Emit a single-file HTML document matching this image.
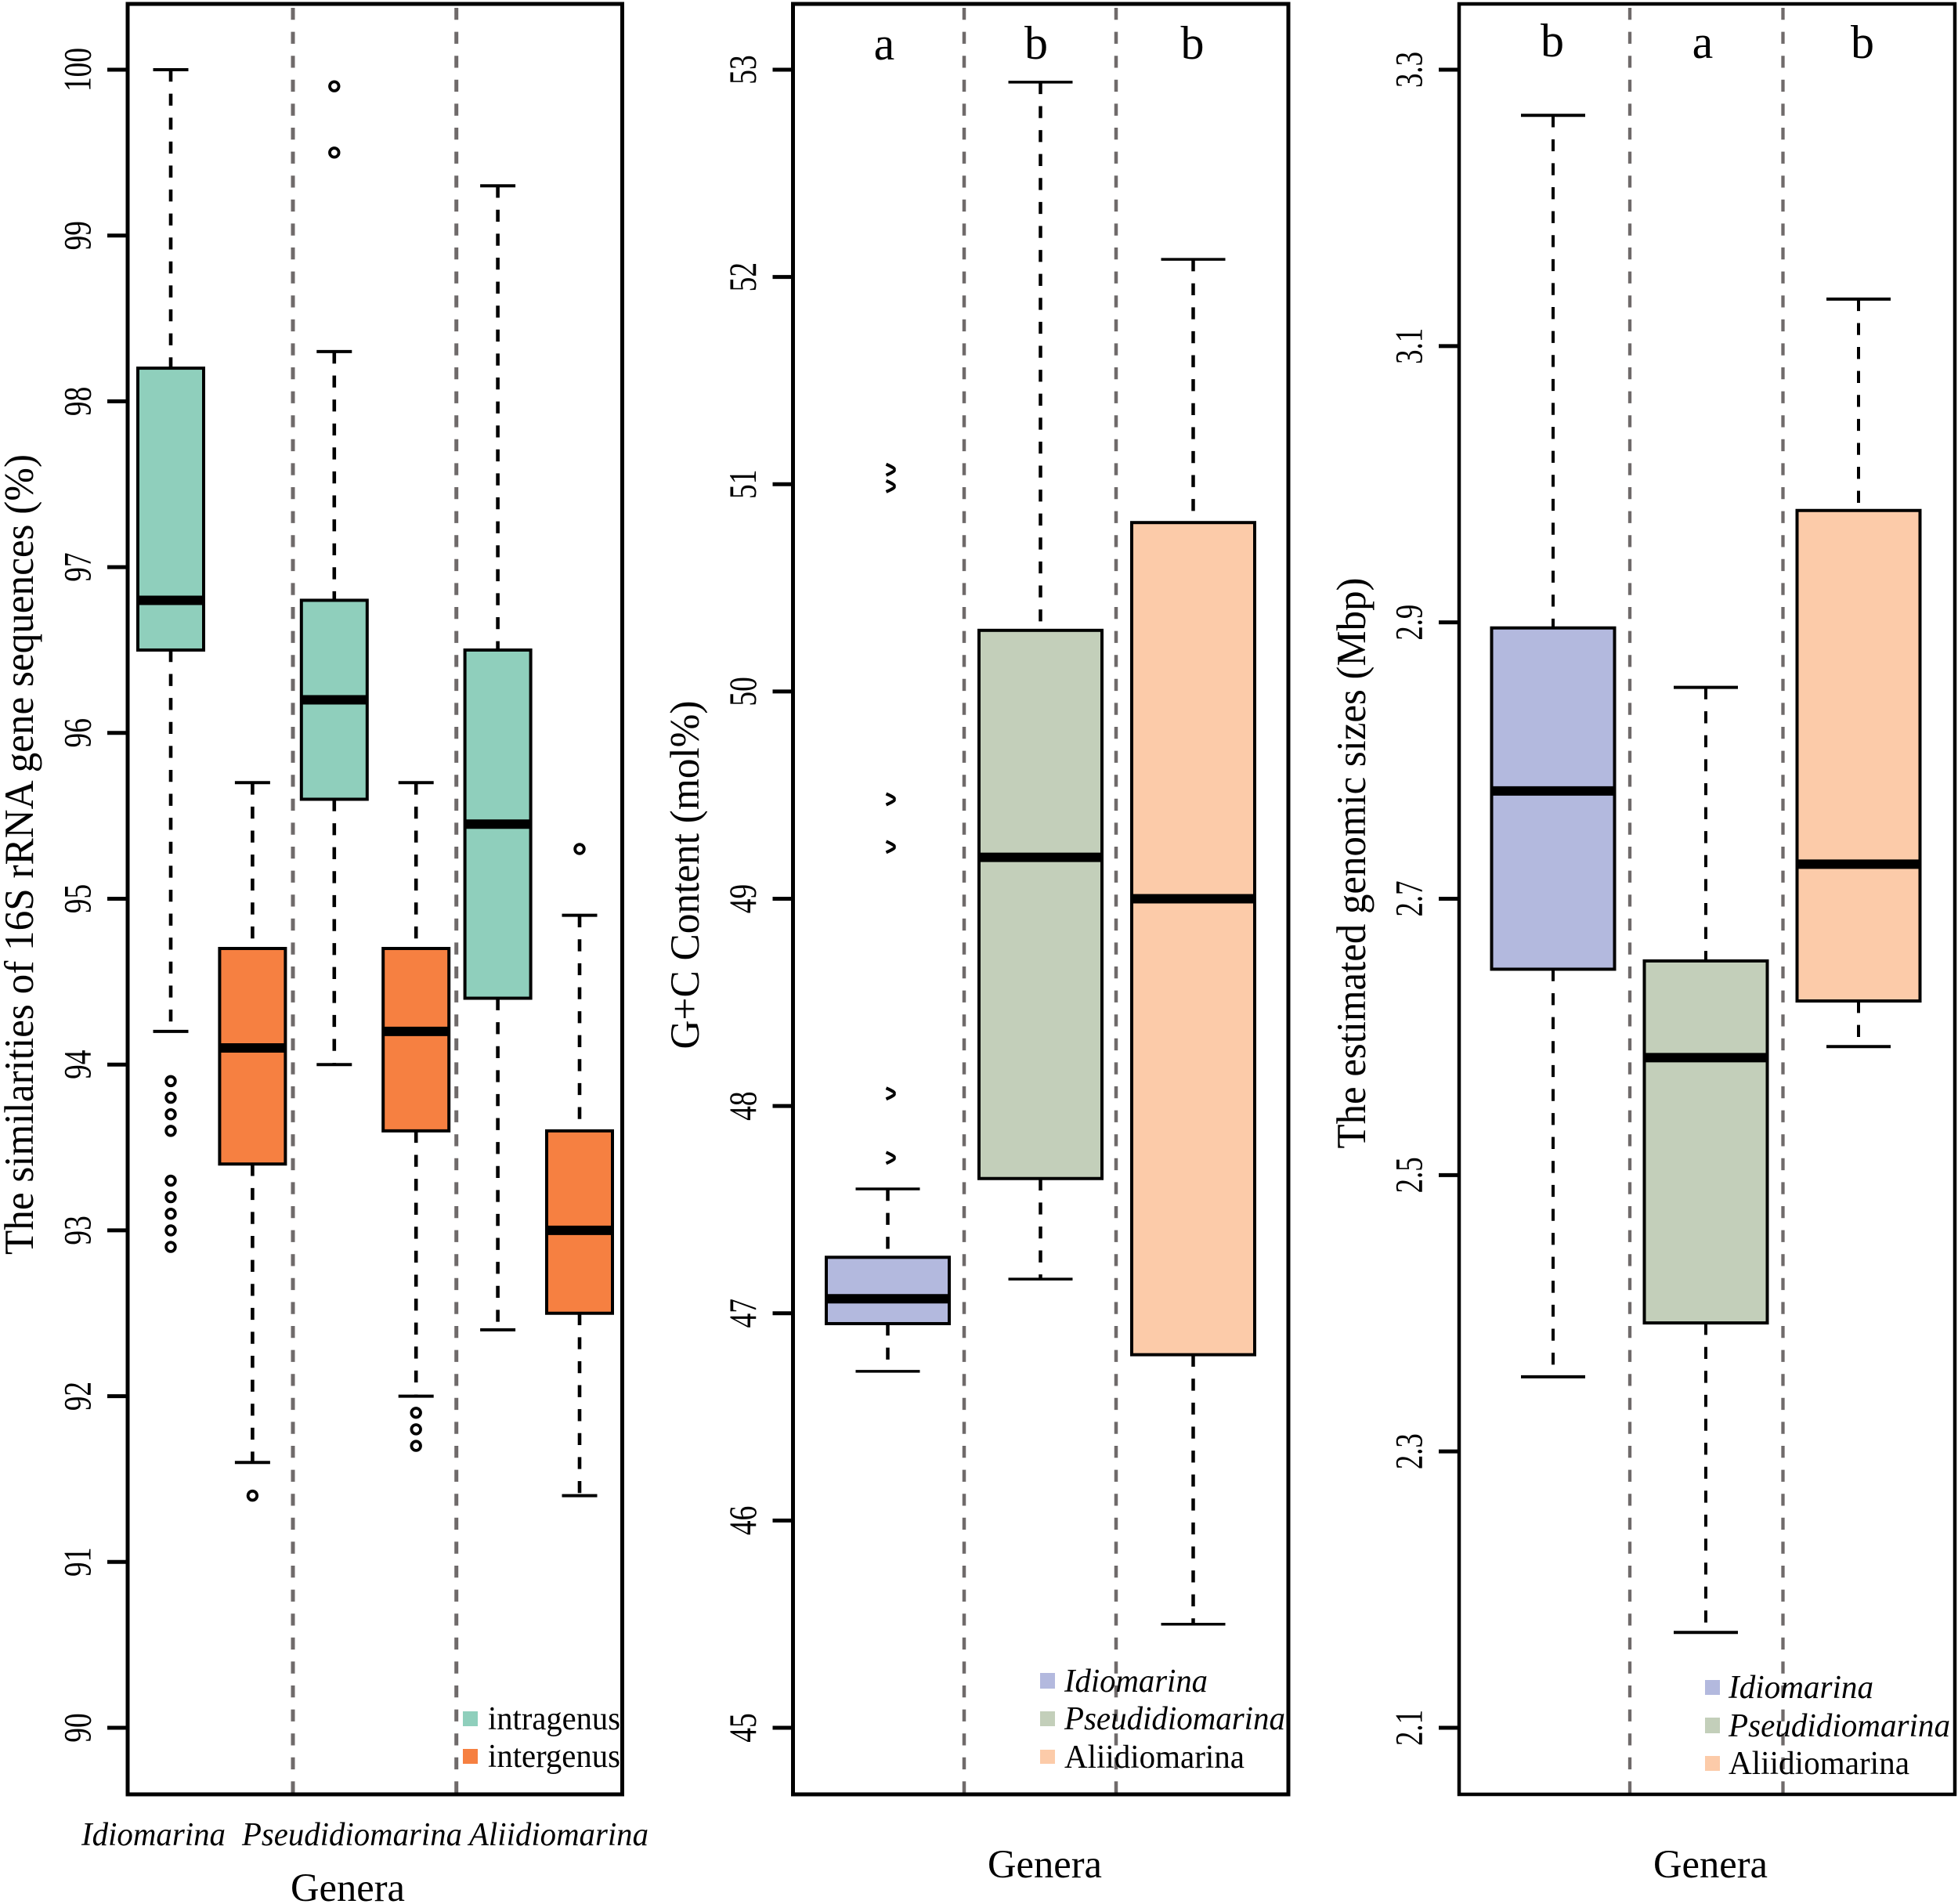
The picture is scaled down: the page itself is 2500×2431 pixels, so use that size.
<!DOCTYPE html>
<html lang="en">
<head>
<meta charset="utf-8">
<title>Genera box plots</title>
<style>
html,body{margin:0;padding:0;background:#fff;}
svg{display:block;}
text{font-family:"Liberation Serif",serif;fill:#000;}
</style>
</head>
<body>
<svg id="chart" xmlns="http://www.w3.org/2000/svg" width="2500" height="2431" viewBox="0 0 2500 2431">
  <rect x="0" y="0" width="2500" height="2431" fill="#fff"/>
  <g id="marks"></g>

  <g>
    <text transform="translate(42,1091) rotate(-90)" text-anchor="middle" font-size="53" textLength="1022" lengthAdjust="spacingAndGlyphs">The similarities of 16S rRNA gene sequences (%)</text>
    <text transform="translate(892,1117) rotate(-90)" text-anchor="middle" font-size="53" textLength="445" lengthAdjust="spacingAndGlyphs">G+C Content (mol%)</text>
    <text transform="translate(1743,1102) rotate(-90)" text-anchor="middle" font-size="53" textLength="729" lengthAdjust="spacingAndGlyphs">The estimated genomic sizes (Mbp)</text>
    <text x="371" y="2427" font-size="51" textLength="146" lengthAdjust="spacingAndGlyphs">Genera</text>
    <text x="1261" y="2397" font-size="51" textLength="146" lengthAdjust="spacingAndGlyphs">Genera</text>
    <text x="2111" y="2397" font-size="51" textLength="146" lengthAdjust="spacingAndGlyphs">Genera</text>
  </g>

  <g font-style="italic" font-size="42">
    <text x="104" y="2356" textLength="184" lengthAdjust="spacingAndGlyphs">Idiomarina</text>
    <text x="309" y="2356" textLength="281" lengthAdjust="spacingAndGlyphs">Pseudidiomarina</text>
    <text x="599" y="2356" textLength="229" lengthAdjust="spacingAndGlyphs">Aliidiomarina</text>
  </g>

  <g font-size="42">
    <rect x="591" y="2185" width="19" height="19" fill="#8fcfbc"/>
    <text x="623" y="2208" textLength="169" lengthAdjust="spacingAndGlyphs">intragenus</text>
    <rect x="591" y="2233" width="19" height="19" fill="#f68041"/>
    <text x="623" y="2256" textLength="169" lengthAdjust="spacingAndGlyphs">intergenus</text>
  </g>

  <g font-size="42">
    <rect x="1328" y="2136" width="19" height="20" fill="#b3b9de"/>
    <text x="1359" y="2160" font-style="italic" textLength="183" lengthAdjust="spacingAndGlyphs">Idiomarina</text>
    <rect x="1328" y="2185" width="19" height="19" fill="#c3cfba"/>
    <text x="1359" y="2208" font-style="italic" textLength="282" lengthAdjust="spacingAndGlyphs">Pseudidiomarina</text>
    <rect x="1328" y="2234" width="19" height="18" fill="#fccba9"/>
    <text x="1359" y="2257" textLength="230" lengthAdjust="spacingAndGlyphs">Aliidiomarina</text>
  </g>

  <g font-size="42">
    <rect x="2177" y="2145" width="19" height="19" fill="#b3b9de"/>
    <text x="2207" y="2168" font-style="italic" textLength="185" lengthAdjust="spacingAndGlyphs">Idiomarina</text>
    <rect x="2177" y="2193" width="19" height="20" fill="#c3cfba"/>
    <text x="2207" y="2217" font-style="italic" textLength="283" lengthAdjust="spacingAndGlyphs">Pseudidiomarina</text>
    <rect x="2177" y="2242" width="19" height="19" fill="#fccba9"/>
    <text x="2207" y="2265" textLength="231" lengthAdjust="spacingAndGlyphs">Aliidiomarina</text>
  </g>

  <g font-size="60" text-anchor="middle">
    <text x="1129" y="76">a</text>
    <text x="1323" y="75">b</text>
    <text x="1522.5" y="75">b</text>
    <text x="1982" y="72">b</text>
    <text x="2174" y="74">a</text>
    <text x="2378" y="74">b</text>
  </g>
</svg>
<script>
// ---- Panel 1: 16S rRNA similarity ----
var simTicks = ['90','91','92','93','94','95','96','97','98','99','100'];
var simGroups = ['idiomarina-intra','idiomarina-inter','pseudidiomarina-intra','pseudidiomarina-inter','aliidiomarina-intra','aliidiomarina-inter'];
var simLow = [94.2, 91.6, 94.0, 92.0, 92.4, 91.4];
var simQ1 = [96.5, 93.4, 95.6, 93.6, 94.4, 92.5];
var simMedian = [96.8, 94.1, 96.2, 94.2, 95.45, 93.0];
var simQ3 = [98.2, 94.7, 96.8, 94.7, 96.5, 93.6];
var simHigh = [100, 95.7, 98.3, 95.7, 99.3, 94.9];
var simOutliers = [
  [93.9, 93.8, 93.7, 93.6, 93.3, 93.2, 93.1, 93.0, 92.9],
  [91.4],
  [99.9, 99.5],
  [91.9, 91.8, 91.7],
  [],
  [95.3]
];
var simColors = ['#8fcfbc','#f68041','#8fcfbc','#f68041','#8fcfbc','#f68041'];

// ---- Panel 2: G+C content ----
var gcTicks = ['45','46','47','48','49','50','51','52','53'];
var gcGroups = ['idiomarina','pseudidiomarina','aliidiomarina'];
var gcLow = [46.72, 47.165, 45.5];
var gcQ1 = [46.95, 47.65, 46.8];
var gcMedian = [47.07, 49.2, 49.0];
var gcQ3 = [47.27, 50.295, 50.815];
var gcHigh = [47.6, 52.94, 52.085];
var gcOutliers = [[51.07, 50.99, 49.48, 49.25, 48.06, 47.75], [], []];

// ---- Panel 3: genome size ----
var sizeTicks = ['2.1','2.3','2.5','2.7','2.9','3.1','3.3'];
var sizeGroups = ['idiomarina','pseudidiomarina','aliidiomarina'];
var sizeLow = [2.354, 2.169, 2.593];
var sizeQ1 = [2.649, 2.393, 2.626];
var sizeMedian = [2.778, 2.585, 2.725];
var sizeQ3 = [2.896, 2.655, 2.981];
var sizeHigh = [3.267, 2.853, 3.134];
var sizeOutliers = [[], [], []];

var threeColors = ['#b3b9de','#c3cfba','#fccba9'];

var NS = 'http://www.w3.org/2000/svg';
var root = document.getElementById('marks');

function mk(tag, attrs, parent) {
  var el = document.createElementNS(NS, tag);
  for (var k in attrs) { el.setAttribute(k, attrs[k]); }
  parent.appendChild(el);
  return el;
}

function drawPanel(p) {
  var top = 89, bottom = 2206;
  var dMin = parseFloat(p.ticks[0]);
  var dMax = parseFloat(p.ticks[p.ticks.length - 1]);
  function yScale(v) { return bottom - (v - dMin) / (dMax - dMin) * (bottom - top); }
  function xScale(i) { return p.x0 + i * p.step; }

  var g = mk('g', {}, root);
  
  

  // separators
  p.seps.forEach(function (sx) {
    var sep = mk('line', {x1: sx, x2: sx, y1: 10, y2: p.bottomEdge, stroke: '#6f6a6a', 'stroke-width': p.sepW, 'stroke-dasharray': '15.3 15.3'}, g);
    
    
  });

  // boxes
  p.groups.forEach(function (name, i) {
    var cx = xScale(i);
    var yLow = yScale(p.low[i]), yQ1 = yScale(p.q1[i]), yMed = yScale(p.median[i]), yQ3 = yScale(p.q3[i]), yHigh = yScale(p.high[i]);

    var whiskerTop = mk('line', {x1: cx, x2: cx, y1: yHigh, y2: yQ3, stroke: '#000', 'stroke-width': p.whiskW, 'stroke-dasharray': '15.3 15.3'}, g);
    
    

    var whiskerBottom = mk('line', {x1: cx, x2: cx, y1: yQ1, y2: yLow, stroke: '#000', 'stroke-width': p.whiskW, 'stroke-dasharray': '15.3 15.3'}, g);
    
    

    var capTop = mk('line', {x1: cx - p.capHalf, x2: cx + p.capHalf, y1: yHigh, y2: yHigh, stroke: '#000', 'stroke-width': p.capW}, g);
    
    

    var capBottom = mk('line', {x1: cx - p.capHalf, x2: cx + p.capHalf, y1: yLow, y2: yLow, stroke: '#000', 'stroke-width': p.capW}, g);
    
    

    var box = mk('rect', {x: cx - p.boxHalf, y: yQ3, width: 2 * p.boxHalf, height: yQ1 - yQ3, fill: p.colors[i], stroke: '#000', 'stroke-width': p.boxW}, g);
    
    

    var med = mk('line', {x1: cx - p.boxHalf, x2: cx + p.boxHalf, y1: yMed, y2: yMed, stroke: '#000', 'stroke-width': p.medW}, g);
    
    

    p.outliers[i].forEach(function (v) {
      var oy = yScale(v);
      var dot;
      if (p.clipOutliers) {
        dot = mk('path', {d: 'M' + (cx - 2) + ' ' + (oy - 7) + 'Q' + (cx + 12) + ' ' + (oy - 1) + ' ' + (cx + 7) + ' ' + oy + 'Q' + (cx + 12) + ' ' + (oy + 1) + ' ' + (cx - 2) + ' ' + (oy + 7), fill: 'none', stroke: '#000', 'stroke-width': 4}, g);
      } else {
        dot = mk('circle', {cx: cx, cy: oy, r: 5.8, fill: '#fff', stroke: '#000', 'stroke-width': 3.8}, g);
      }
      
      
    });
  });

  // y ticks
  p.ticks.forEach(function (label) {
    var ty = yScale(parseFloat(label));
    var tick = mk('line', {x1: p.left - 26, x2: p.left, y1: ty, y2: ty, stroke: '#000', 'stroke-width': 5}, g);
    
    

    var txt = mk('text', {transform: 'translate(' + (p.left - 47.5) + ',' + ty + ') rotate(-90)', 'text-anchor': 'middle', 'font-size': 50, textLength: label.indexOf('.') >= 0 ? 46 : label.length * 18.7, lengthAdjust: 'spacingAndGlyphs'}, g);
    txt.textContent = label;
    
    
  });

  // frame
  var frame = mk('rect', {x: p.left, y: 5, width: p.right - p.left, height: 2286, fill: 'none', stroke: '#000', 'stroke-width': p.frameW}, g);
  
  
}

drawPanel({
  name: 'similarity', left: 163, right: 794.5, bottomEdge: 2291, frameW: 5, sepW: 5,
  seps: [374, 582.7], x0: 218, step: 104.4, boxHalf: 42, capHalf: 22.5,
  whiskW: 4.6, capW: 4, boxW: 4, medW: 12, ticks: simTicks, groups: simGroups,
  low: simLow, q1: simQ1, median: simMedian, q3: simQ3, high: simHigh,
  outliers: simOutliers, colors: simColors, clipOutliers: false
});
drawPanel({
  name: 'gc-content', left: 1012.5, right: 1645, bottomEdge: 2291, frameW: 5, sepW: 4.5,
  seps: [1231, 1425], x0: 1133.5, step: 195, boxHalf: 78.5, capHalf: 41,
  whiskW: 4.5, capW: 3.5, boxW: 4, medW: 12, ticks: gcTicks, groups: gcGroups,
  low: gcLow, q1: gcQ1, median: gcMedian, q3: gcQ3, high: gcHigh,
  outliers: gcOutliers, colors: threeColors, clipOutliers: true
});
drawPanel({
  name: 'genome-size', left: 1863, right: 2496, bottomEdge: 2291, frameW: 4.5, sepW: 4.3,
  seps: [2081, 2276.5], x0: 1983, step: 195, boxHalf: 78.5, capHalf: 41,
  whiskW: 4, capW: 4, boxW: 4, medW: 12, ticks: sizeTicks, groups: sizeGroups,
  low: sizeLow, q1: sizeQ1, median: sizeMedian, q3: sizeQ3, high: sizeHigh,
  outliers: sizeOutliers, colors: threeColors, clipOutliers: false
});
</script>
</body>
</html>
